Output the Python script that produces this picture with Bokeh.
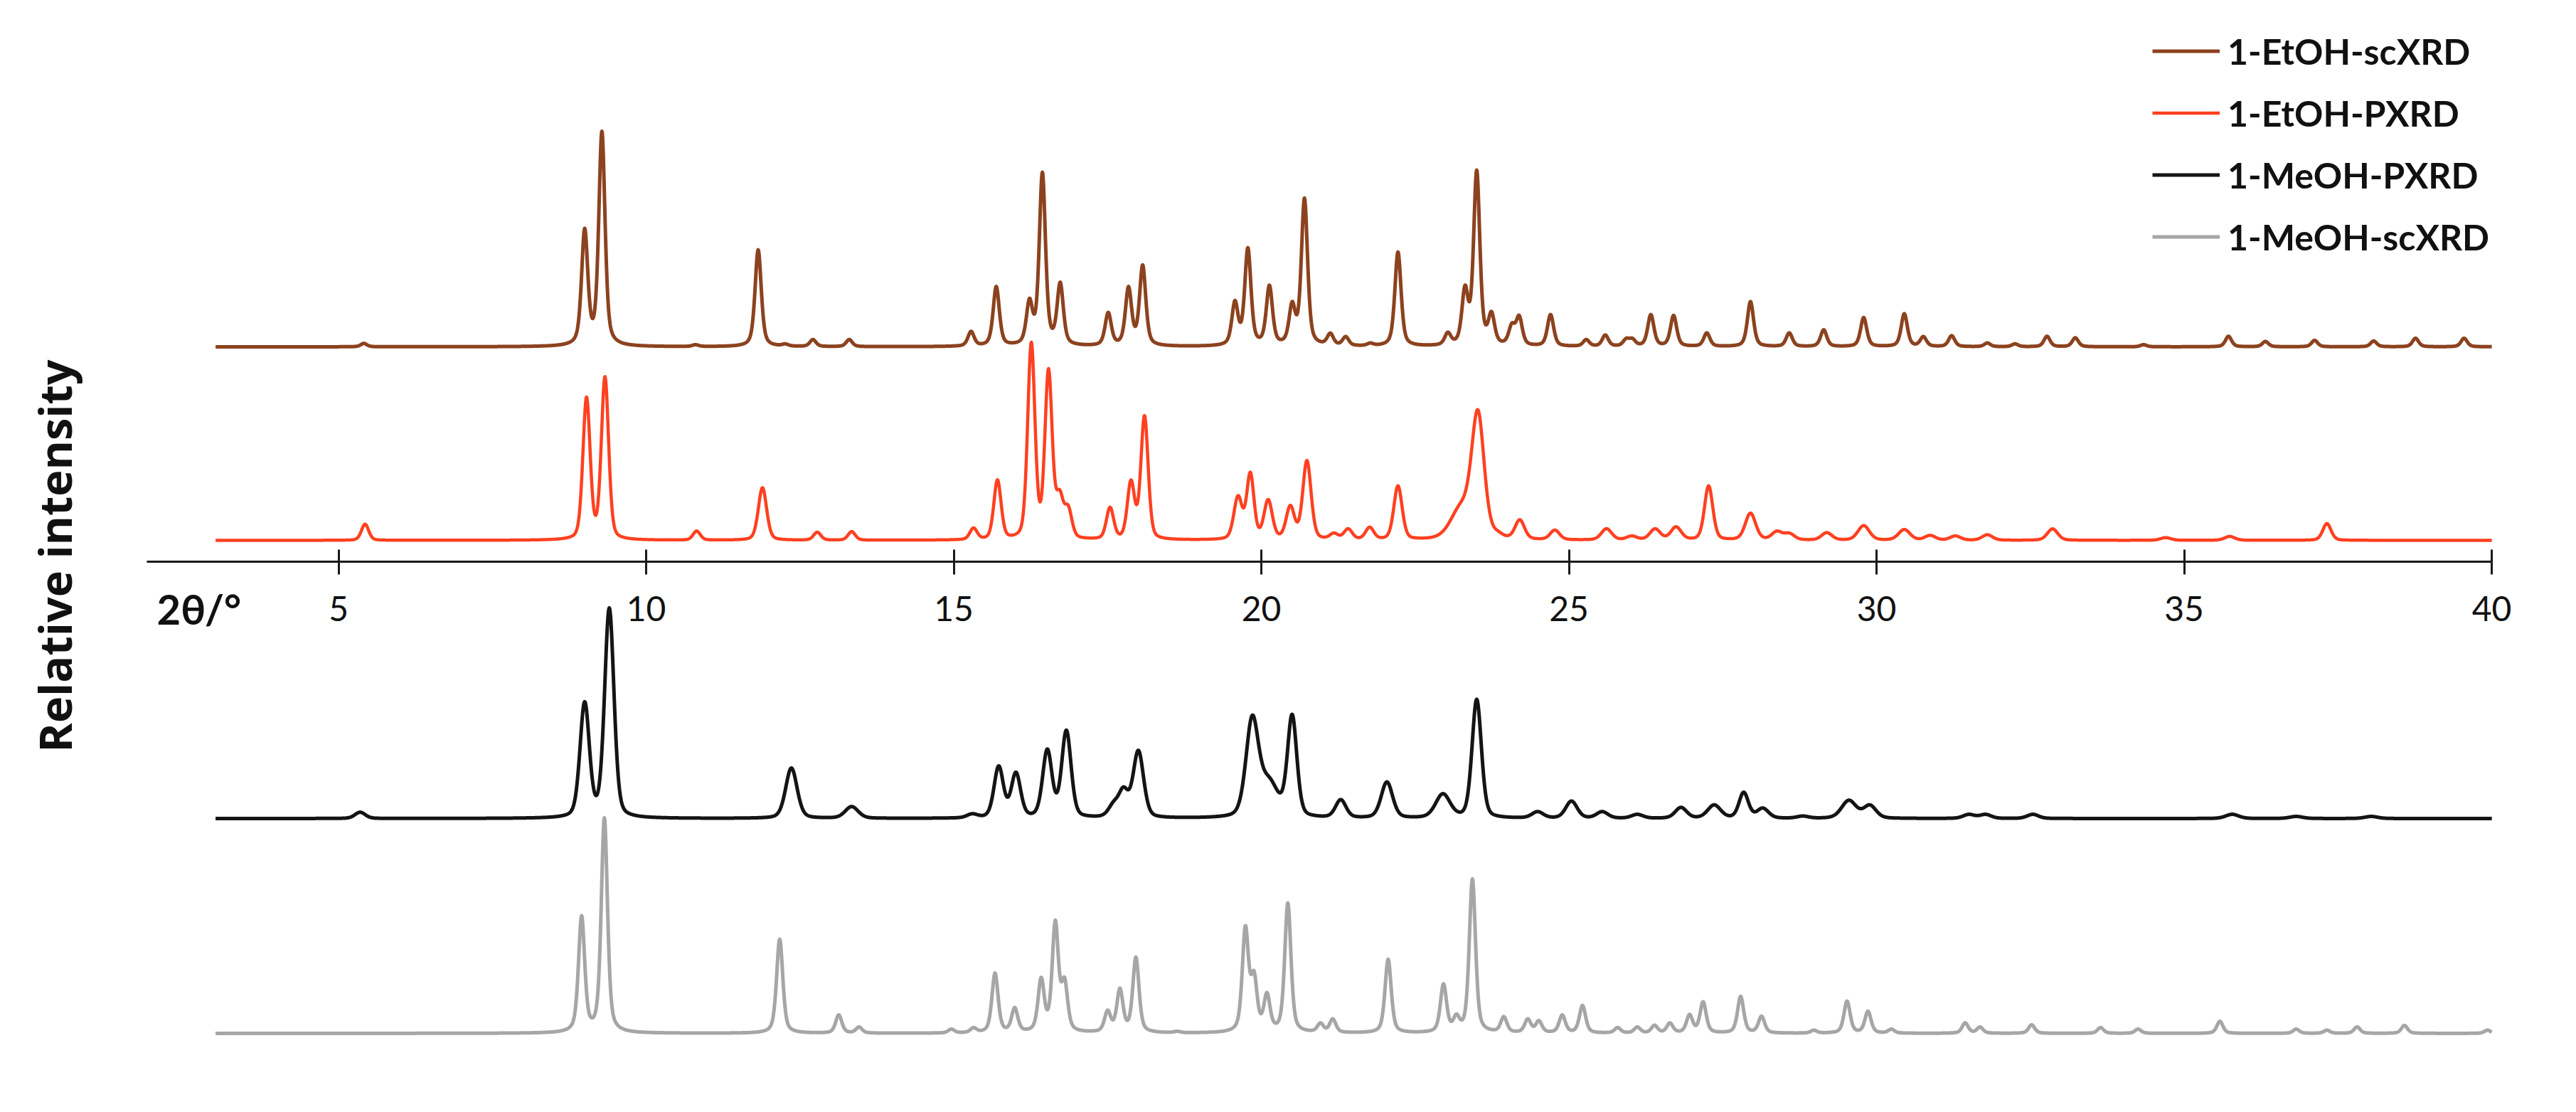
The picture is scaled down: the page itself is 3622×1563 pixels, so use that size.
import numpy as np
from bokeh.plotting import figure
from bokeh.models import Range1d, FixedTicker, Label, Legend, LegendItem, ColumnDataSource
from bokeh.embed import file_html
from bokeh.resources import INLINE

# ---------------- data ----------------
two_theta_start = 3.0
two_theta_end = 40.0
tick_values = [5, 10, 15, 20, 25, 30, 35, 40]
axis_label_text = "2θ/°"
y_label_text = "Relative intensity"

series_names = ["1-EtOH-scXRD", "1-EtOH-PXRD", "1-MeOH-PXRD", "1-MeOH-scXRD"]

# peak positions (2theta, deg) and relative intensities (% of strongest peak)
etoh_sc_pos = [5.41, 9.00, 9.28, 10.80, 11.82, 12.26, 12.71, 13.30, 15.28, 15.69, 16.23, 16.44,
               16.73, 17.51, 17.84, 18.07, 19.57, 19.78, 20.13, 20.50, 20.70, 21.12, 21.37, 21.77,
               22.22, 23.03, 23.31, 23.50, 23.74, 24.07, 24.19, 24.70, 25.28, 25.59, 25.93, 26.03,
               26.33, 26.70, 27.24, 27.95, 28.58, 29.14, 29.79, 30.45, 30.76, 31.22, 31.80, 32.25,
               32.77, 33.23, 34.34, 35.72, 36.32, 37.12, 38.08, 38.76, 39.55]
etoh_sc_int = [1.6, 55, 100, 1.0, 45, 1.4, 3.4, 3.4, 7.2, 28, 22.5, 81,
               30, 16, 28, 38, 21.5, 46, 28.6, 21, 69, 6.4, 4.8, 1.8,
               44, 6.8, 28.6, 82, 16.4, 11, 14.6, 15, 3.4, 5.5, 4, 4,
               15, 14.6, 6.5, 21, 6.5, 7.9, 13.6, 15.4, 4.8, 5.2, 1.8, 1.4,
               4.9, 4.2, 1.0, 4.9, 2.5, 3.0, 2.7, 4.0, 4.0]

etoh_px_pos = [5.43, 9.03, 9.33, 10.82, 11.89, 12.78, 13.34, 15.32, 15.71, 16.14, 16.26, 16.54,
               16.72, 16.86, 17.54, 17.88, 18.10, 19.62, 19.82, 20.11, 20.47, 20.74, 21.18, 21.41,
               21.76, 22.22, 23.25, 23.52, 23.84, 24.20, 24.77, 25.61, 26.02, 26.40, 26.74, 27.27,
               27.95, 28.38, 28.58, 29.19, 29.79, 30.45, 30.87, 31.28, 31.80, 32.86, 34.70, 35.74,
               37.32]
etoh_px_int = [8.3, 73.5, 84, 4.8, 27, 4.2, 4.5, 6.4, 31, 8, 100, 88,
               26, 18, 17, 31, 64, 23, 35, 21, 18, 41, 3.8, 6,
               6.8, 28, 20, 67, 5, 10.6, 5.3, 6, 2.3, 6, 7, 28,
               14, 4.8, 3.8, 4, 7.6, 5.6, 2.6, 2.3, 2.9, 5.9, 1.4, 2,
               8.6]
etoh_px_fwhm = [0.14, 0.14, 0.14, 0.14, 0.16, 0.14, 0.14, 0.14, 0.14, 0.14, 0.14, 0.14,
                0.14, 0.14, 0.14, 0.14, 0.14, 0.16, 0.14, 0.16, 0.16, 0.16, 0.16, 0.16,
                0.16, 0.16, 0.40, 0.24, 0.18, 0.18, 0.18, 0.2, 0.2, 0.2, 0.2, 0.16,
                0.2, 0.2, 0.2, 0.2, 0.22, 0.22, 0.2, 0.2, 0.2, 0.2, 0.2, 0.2,
                0.16]

meoh_px_pos = [5.35, 9.00, 9.40, 12.36, 13.34, 15.30, 15.73, 16.01, 16.52, 16.83, 17.60, 17.76,
               18.00, 19.85, 20.12, 20.50, 21.29, 22.04, 22.95, 23.50, 24.49, 25.04, 25.54, 26.11,
               26.82, 27.36, 27.84, 28.15, 28.80, 29.55, 29.89, 31.50, 31.77, 32.54, 35.78, 36.82,
               38.04]
meoh_px_int = [3, 55.5, 100, 24, 5.7, 2.3, 25, 22, 33, 42, 8.3, 15,
               32.4, 49, 20, 49.5, 9, 17.4, 11.8, 56.6, 3.3, 8.3, 3.3, 2,
               5.3, 6.5, 12.5, 5, 1.2, 8.7, 6.5, 2, 2, 2, 2, 1,
               1]
meoh_px_fwhm = [0.2, 0.18, 0.18, 0.22, 0.25, 0.2, 0.18, 0.18, 0.18, 0.18, 0.2, 0.18,
                0.2, 0.24, 0.35, 0.18, 0.2, 0.22, 0.28, 0.18, 0.22, 0.22, 0.22, 0.22,
                0.22, 0.25, 0.18, 0.22, 0.22, 0.28, 0.24, 0.22, 0.22, 0.22, 0.25, 0.25,
                0.25]

meoh_sc_pos = [8.95, 9.32, 12.17, 13.13, 13.46, 14.96, 15.32, 15.67, 15.99, 16.42, 16.65, 16.80,
               17.50, 17.70, 17.96, 18.63, 19.74, 19.88, 20.09, 20.43, 20.96, 21.16, 22.06, 22.96,
               23.17, 23.43, 23.94, 24.33, 24.51, 24.89, 25.22, 25.79, 26.11, 26.39, 26.64, 26.96,
               27.18, 27.79, 28.13, 28.98, 29.52, 29.86, 30.24, 31.44, 31.68, 32.52, 33.64, 34.25,
               35.58, 36.82, 37.32, 37.81, 38.58, 39.93]
meoh_sc_int = [54.6, 100, 43.7, 8.6, 3, 2, 2.7, 28, 12, 26, 52.5, 26,
               10.8, 21, 35.4, 1, 50, 29, 19, 60.5, 4.9, 6.8, 34.4, 23,
               9, 71.7, 7.8, 6.8, 6, 8.6, 13, 2.7, 3, 3.8, 4.9, 8.8,
               14.7, 17.2, 8, 1.5, 15, 10.3, 2, 4.9, 3, 4, 2.7, 2,
               5.6, 2, 1.5, 3, 3.7, 1.5]

# ---------------- styling / layout ----------------
colors = ["#8C421E", "#FF4020", "#141414", "#A6A6A6"]
line_widths = [5, 4.5, 5, 5]
sc_fwhm = 0.12
profile_eta = [0.5, 0.3, 0.3, 0.5]

W, H = 3606, 1547
PAGE_TOP = 8
px_per_deg = 86.5
x_at_5 = 483.6  # page px of 5 deg
x0 = 5 - (x_at_5 - PAGE_TOP) / px_per_deg
x1 = x0 + W / px_per_deg


def dy(page_y):
    return PAGE_TOP + H - page_y


baselines = [495, 767, 1158, 1460]      # page px of each trace baseline
full_heights = [303, 274, 296, 303]     # page px spanned by 100 %


def shape(d, eta):
    return eta / (1 + 4 * d * d) + (1 - eta) * np.exp(-4 * np.log(2) * d * d)


def pattern(x, pos, inten, fwhm, eta):
    pos = np.asarray(pos, float)
    inten = np.asarray(inten, float)
    fwhm = np.asarray(fwhm, float)
    m = shape((pos[:, None] - pos[None, :]) / fwhm[None, :], eta)
    amp = np.clip(np.linalg.solve(m, inten), 0, None)
    y = np.zeros_like(x)
    for p_, a, w in zip(pos, amp, fwhm):
        y += a * shape((x - p_) / w, eta)
    return y


x = np.linspace(two_theta_start, two_theta_end, 7401)
series = [
    (etoh_sc_pos, etoh_sc_int, [sc_fwhm] * len(etoh_sc_pos)),
    (etoh_px_pos, etoh_px_int, etoh_px_fwhm),
    (meoh_px_pos, meoh_px_int, meoh_px_fwhm),
    (meoh_sc_pos, meoh_sc_int, [sc_fwhm] * len(meoh_sc_pos)),
]

p = figure(width=W, height=H, output_backend="svg", toolbar_location=None,
           x_range=Range1d(x0, x1), y_range=Range1d(0, H),
           y_axis_location=None, min_border=0, min_border_left=0, min_border_right=0,
           min_border_top=0, min_border_bottom=0, outline_line_color=None)
p.xgrid.visible = False
p.ygrid.visible = False
p.background_fill_color = "white"
p.border_fill_color = "white"

renderers = []
for i, (pos, inten, fw) in enumerate(series):
    y = pattern(x, pos, inten, fw, profile_eta[i])
    yy = dy(baselines[i]) + y / 100.0 * full_heights[i]
    src = ColumnDataSource(dict(x=x, y=yy))
    r = p.line("x", "y", source=src, line_color=colors[i], line_width=line_widths[i],
               line_join="round")
    renderers.append(r)

ax = p.xaxis[0]
ax.fixed_location = dy(797)
ax.bounds = (5 - (x_at_5 - 214) / px_per_deg, 40)
ax.ticker = FixedTicker(ticks=tick_values)
ax.minor_tick_line_color = None
ax.major_tick_in = 17
ax.major_tick_out = 18
ax.axis_line_width = 3
ax.major_tick_line_width = 3
ax.axis_line_color = "#1a1a1a"
ax.major_tick_line_color = "#1a1a1a"
ax.major_label_text_font = "Lato"
ax.major_label_text_font_size = "48px"
ax.major_label_text_color = "#111111"
ax.major_label_standoff = 30

p.add_layout(Label(x=5 - (x_at_5 - 228) / px_per_deg, y=dy(863), text=axis_label_text,
                   text_font="Lato", text_font_style="bold", text_font_size="58px",
                   text_align="left", text_baseline="middle", text_color="#111111"))

p.add_layout(Label(x=x0 + (84 - PAGE_TOP) / px_per_deg, y=dy(789), text=y_label_text,
                   angle=np.pi / 2, text_font="Open Sans", text_font_style="bold",
                   text_font_size="63px", text_align="center", text_baseline="middle",
                   text_color="#111111"))

legend = Legend(items=[LegendItem(label=n, renderers=[r]) for n, r in zip(series_names, renderers)],
                location=(3034 - PAGE_TOP, dy(384)), orientation="vertical",
                glyph_width=95, glyph_height=87, label_height=87, spacing=0,
                label_standoff=11, padding=0, margin=0, border_line_color=None,
                background_fill_alpha=0, label_text_font="Lato",
                label_text_font_style="bold", label_text_font_size="50px",
                label_text_color="#111111", label_text_baseline="middle")
p.add_layout(legend)

open("out.html", "w").write(file_html(p, INLINE))
